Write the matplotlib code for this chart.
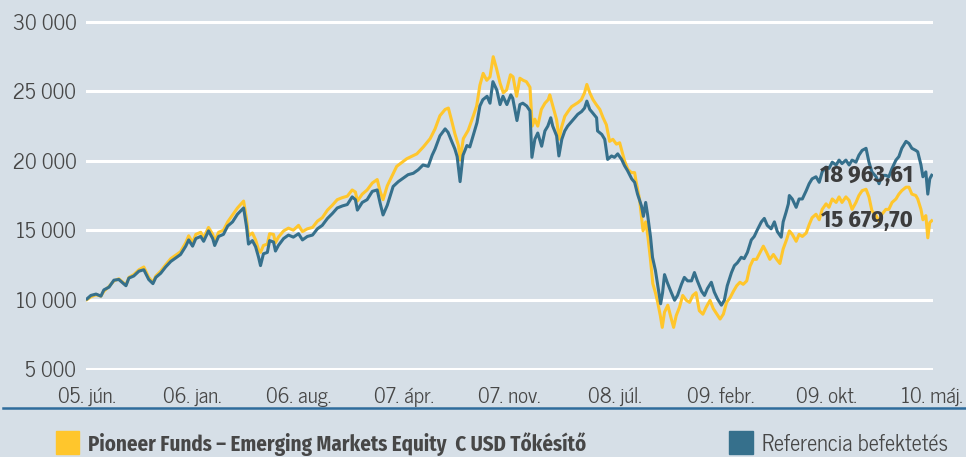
import numpy as np
import matplotlib
matplotlib.use("Agg")
import matplotlib.pyplot as plt
from matplotlib.lines import Line2D
from matplotlib.patches import Rectangle

plt.rcParams['font.family'] = ['News Cycle', 'DejaVu Sans']
bold_fam = ['Fira Sans Condensed', 'DejaVu Sans']

# weeks since 2005 June, values in thousands
ref_weeks = [0.0, 1.2, 2.8, 4.3, 5.2, 6.8, 8.3, 9.8, 11.0, 12.0, 12.9, 14.4, 16.0, 17.5, 19.0, 20.3, 21.2, 22.7,
             24.2, 25.8, 27.3, 28.8, 30.4, 31.3, 32.5, 33.5, 35.0, 35.9, 37.4, 38.7, 39.3, 40.5, 42.0, 43.3, 44.8,
             46.3, 48.2, 49.1, 49.7, 50.9, 51.9, 52.8, 53.4, 54.3, 55.5, 56.2, 57.4, 58.0, 58.9, 60.5, 62.0, 63.5,
             65.1, 66.3, 67.8, 69.4, 70.9, 72.4, 74.0, 75.5, 77.0, 78.6, 80.1, 81.6, 82.6, 83.2, 84.7, 86.2, 87.8,
             89.3, 90.2, 91.1, 92.4, 94.2, 95.8, 97.3, 98.8, 100.4, 101.9, 103.4, 105.0, 106.2, 107.1, 108.6, 110.2,
             111.1, 112.3, 113.2, 113.9, 114.8, 115.7, 116.9, 117.8, 118.8, 120.0, 120.9, 121.8, 123.1, 124.0,
             124.9, 126.1, 127.1, 128.0, 129.2, 130.4, 131.0, 132.3, 133.2, 134.1, 135.3, 136.3, 136.9, 137.8,
             138.7, 139.9, 140.9, 141.8, 142.7, 143.3, 144.5, 145.2, 146.1, 147.0, 147.9, 149.2, 150.1, 151.0,
             152.2, 153.1, 153.8, 154.7, 155.6, 156.8, 157.1, 158.4, 159.3, 160.2, 161.4, 162.3, 163.3, 164.5,
             165.4, 166.3, 167.6, 168.5, 169.4, 170.6, 171.2, 171.9, 172.5, 173.4, 174.0, 174.9, 175.5, 176.5,
             177.1, 177.7, 178.6, 179.8, 180.8, 181.7, 182.9, 183.8, 184.8, 186.0, 186.9, 187.8, 189.1, 190.0,
             190.9, 192.1, 193.0, 194.0, 195.2, 196.1, 197.0, 198.3, 199.2, 200.1, 201.3, 202.2, 203.2, 204.4,
             205.3, 206.2, 207.5, 208.4, 209.3, 210.5, 211.5, 212.4, 213.6, 214.2, 215.1, 215.8, 216.1, 217.0,
             218.2, 219.1, 220.1, 221.3, 222.2, 223.1, 224.3, 225.3, 226.2, 227.4, 228.3, 229.3, 230.5, 231.4,
             232.3, 233.5, 234.5, 235.4, 236.6, 237.5, 238.5, 239.7, 240.6, 241.5, 242.8, 243.7, 244.6, 245.8,
             246.7, 247.7, 248.9, 249.8, 250.7, 252.0, 252.9, 253.8, 255.0, 255.6, 256.6, 257.2, 258.1, 258.7,
             259.3, 259.9]
ref_vals = [10.05, 10.3, 10.4, 10.25, 10.7, 10.9, 11.4, 11.45, 11.2, 11.0, 11.55, 11.7, 12.05, 12.15, 11.45, 11.15,
            11.6, 11.9, 12.35, 12.75, 13.0, 13.25, 13.85, 14.3, 13.85, 14.4, 14.55, 14.2, 14.95, 14.4, 13.9, 14.55,
            14.7, 15.3, 15.6, 16.15, 16.6, 15.25, 14.0, 14.25, 13.8, 13.05, 12.45, 13.3, 13.4, 14.25, 14.15, 13.5,
            13.9, 14.4, 14.65, 14.5, 14.75, 14.3, 14.55, 14.65, 15.1, 15.35, 15.85, 16.2, 16.6, 16.75, 16.85, 17.4,
            17.2, 16.45, 17.0, 17.2, 17.8, 17.9, 16.95, 16.1, 16.8, 18.15, 18.5, 18.75, 19.0, 19.1, 19.35, 19.7,
            19.6, 20.4, 20.85, 21.8, 22.3, 22.05, 21.35, 20.85, 20.3, 18.5, 20.4, 21.1, 21.0, 21.8, 22.75, 23.95,
            24.4, 24.65, 24.15, 25.7, 25.1, 24.05, 24.65, 24.05, 24.75, 24.5, 22.9, 24.05, 24.15, 23.95, 23.6,
            20.25, 21.55, 22.0, 21.05, 22.15, 22.5, 23.1, 22.5, 21.8, 20.35, 21.55, 22.15, 22.5, 22.85, 23.1, 23.35,
            23.55, 23.8, 24.3, 23.7, 23.45, 23.1, 22.15, 21.9, 21.55, 20.1, 20.35, 20.25, 20.5, 20.1, 19.65, 19.3,
            18.7, 18.45, 17.6, 16.75, 16.0, 17.0, 16.1, 14.5, 13.05, 12.1, 11.2, 9.7, 10.5, 11.8, 11.2, 10.5, 9.95,
            10.3, 11.1, 11.6, 11.35, 11.35, 11.95, 11.35, 10.6, 10.3, 10.8, 11.25, 10.55, 10.05, 9.6, 9.95, 11.0,
            11.95, 12.45, 12.65, 13.05, 12.95, 13.4, 14.3, 14.55, 15.0, 15.6, 15.85, 15.35, 15.1, 15.6, 14.9, 14.5,
            15.6, 16.3, 16.9, 17.5, 17.25, 16.65, 17.25, 17.25, 17.85, 18.35, 18.7, 18.85, 18.45, 19.2, 19.55,
            19.45, 19.9, 19.7, 20.05, 19.8, 20.05, 19.7, 20.05, 19.9, 20.4, 20.75, 20.9, 19.9, 19.2, 18.85, 18.35,
            18.95, 18.95, 18.85, 19.45, 20.05, 20.3, 20.9, 21.4, 21.25, 20.9, 20.75, 20.65, 19.7, 18.85, 19.2,
            17.6, 18.7, 18.96]

fund_weeks = [0.0, 1.2, 2.8, 4.3, 5.2, 6.8, 8.3, 9.8, 11.0, 12.0, 12.9, 14.4, 16.0, 17.5, 19.0, 20.3, 21.2, 22.7,
              24.2, 25.8, 27.3, 28.8, 30.4, 31.3, 32.5, 33.5, 35.0, 35.9, 37.4, 38.7, 39.3, 40.5, 42.0, 43.3, 44.8,
              46.3, 48.2, 49.1, 49.7, 50.9, 51.9, 52.8, 53.4, 54.3, 55.5, 56.2, 57.4, 58.0, 58.9, 60.5, 62.0, 63.5,
              65.1, 66.3, 67.8, 69.4, 70.9, 72.4, 74.0, 75.5, 77.0, 78.6, 80.1, 81.6, 82.6, 83.2, 84.7, 86.2, 87.8,
              89.3, 90.2, 91.1, 92.4, 95.3, 98.4, 101.5, 103.5, 105.6, 107.1, 108.6, 110.2, 111.2, 112.2, 113.2,
              114.3, 114.8, 115.8, 117.3, 118.9, 119.9, 120.9, 121.9, 123.0, 124.0, 125.0, 126.0, 127.1, 128.1,
              129.1, 130.3, 131.1, 132.2, 133.2, 134.2, 135.2, 136.3, 137.0, 137.8, 138.7, 139.8, 140.9, 141.9,
              142.4, 143.4, 144.5, 145.3, 146.0, 147.0, 148.0, 149.1, 150.1, 151.1, 152.1, 153.1, 153.8, 154.7,
              155.7, 156.7, 157.8, 158.8, 159.8, 160.8, 161.8, 162.9, 163.9, 164.7, 165.4, 166.4, 167.5, 168.5,
              169.0, 170.0, 171.1, 171.9, 172.6, 173.3, 174.1, 174.9, 175.6, 176.4, 177.0, 177.7, 178.7, 179.8,
              180.5, 181.3, 182.3, 183.3, 184.4, 185.4, 186.4, 187.4, 188.4, 189.5, 190.5, 191.7, 192.7, 193.8,
              194.8, 195.8, 196.8, 197.9, 198.9, 199.9, 200.9, 201.9, 203.0, 204.0, 205.0, 206.0, 207.1, 208.1,
              209.1, 210.1, 211.2, 212.2, 213.2, 214.2, 215.3, 216.1, 217.0, 218.2, 219.1, 220.1, 221.3, 222.2,
              223.1, 224.3, 225.3, 226.2, 227.4, 228.3, 229.3, 230.5, 231.4, 232.3, 233.5, 234.5, 235.4, 236.6,
              237.5, 238.5, 239.7, 240.6, 241.5, 242.8, 243.7, 244.6, 245.8, 246.7, 247.7, 248.9, 249.8, 250.7,
              252.0, 252.9, 253.8, 255.0, 255.6, 256.6, 257.2, 258.1, 258.7, 259.3, 259.9]
fund_vals = [10.0, 10.2, 10.35, 10.25, 10.6, 10.95, 11.35, 11.5, 11.25, 11.05, 11.6, 11.8, 12.15, 12.35, 11.6, 11.25,
             11.7, 12.05, 12.5, 12.95, 13.2, 13.45, 14.1, 14.6, 14.1, 14.7, 14.85, 14.45, 15.2, 14.7, 14.2, 14.85,
             15.0, 15.6, 16.1, 16.6, 17.1, 15.8, 14.6, 14.8, 14.3, 13.6, 13.4, 13.9, 14.0, 14.75, 14.7, 14.1, 14.5,
             14.95, 15.15, 15.0, 15.35, 14.9, 15.1, 15.2, 15.65, 15.9, 16.45, 16.8, 17.2, 17.35, 17.45, 17.9, 17.75,
             17.1, 17.6, 17.9, 18.4, 18.65, 17.8, 17.2, 18.2, 19.6, 20.15, 20.5, 21.0, 21.6, 22.3, 23.25, 23.7,
             23.8, 22.9, 21.95, 21.1, 20.05, 21.6, 22.2, 23.25, 23.95, 25.45, 26.3, 25.8, 26.05, 27.5, 26.65, 25.6,
             24.9, 25.1, 26.2, 26.05, 24.65, 25.95, 25.8, 25.7, 25.3, 22.5, 23.0, 22.5, 23.7, 24.15, 24.4, 24.75,
             23.9, 22.95, 21.55, 22.4, 23.2, 23.55, 23.9, 24.05, 24.2, 24.4, 24.9, 25.5, 24.9, 24.4, 24.05, 23.7,
             23.1, 22.6, 21.4, 21.55, 21.2, 21.3, 20.6, 20.0, 19.4, 19.15, 19.15, 18.45, 17.25, 14.95, 15.6, 14.5,
             13.05, 11.15, 10.5, 9.8, 8.85, 8.0, 9.1, 9.6, 8.6, 8.0, 8.85, 9.45, 10.3, 9.95, 9.8, 10.3, 10.5, 9.2,
             8.95, 9.45, 9.95, 9.35, 8.95, 8.6, 8.95, 9.8, 10.15, 10.6, 11.0, 11.25, 11.1, 11.35, 12.4, 12.9, 12.9,
             13.4, 13.85, 13.4, 12.9, 13.25, 12.9, 12.6, 13.65, 14.35, 14.95, 14.7, 14.2, 14.7, 14.55, 14.8, 15.4,
             15.9, 16.15, 15.75, 16.5, 16.9, 16.65, 17.25, 17.0, 17.4, 17.0, 17.4, 17.15, 16.5, 17.0, 17.5, 17.85,
             17.95, 17.4, 16.4, 16.05, 15.65, 16.15, 16.5, 16.5, 17.0, 17.25, 17.6, 17.85, 18.1, 18.1, 17.6, 17.5,
             17.25, 16.5, 15.75, 16.05, 14.45, 15.55, 15.68]

x_labels = ["05. jún.", "06. jan.", "06. aug.", "07. ápr.", "07. nov.",
            "08. júl.", "09. febr.", "09. okt.", "10. máj."]
y_ticks = [5000, 10000, 15000, 20000, 25000, 30000]
fund_name = "Pioneer Funds – Emerging Markets Equity  C USD Tőkésítő"
ref_name = "Referencia befektetés"
last_ref = "18 963,61"
last_fund = "15 679,70"

bg = "#d6dfe7"
yellow = "#ffc62c"
blue = "#36708c"
txt = "#474747"

fig = plt.figure(figsize=(9.66, 4.57), dpi=100, facecolor=bg)
ax = fig.add_axes([0.089, 0.1895, 0.8765, 0.7654], facecolor=bg)

ax.plot(fund_weeks, np.array(fund_vals) * 1000, color=yellow, lw=2.2, zorder=3)
ax.plot(ref_weeks, np.array(ref_vals) * 1000, color=blue, lw=2.2, zorder=4)

ax.set_ylim(4900, 30100)
ax.set_xlim(-0.3, 260.2)
ax.set_yticks(y_ticks)
ax.set_yticklabels([f"{v:,}".replace(",", " ") for v in y_ticks])
ax.set_xticks(np.linspace(0, 259.9, len(x_labels)))
ax.set_xticklabels(x_labels)
ax.tick_params(length=0, labelsize=15, labelcolor=txt)
ax.tick_params(axis='y', pad=7)
ax.tick_params(axis='x', pad=12)
ax.grid(axis='y', color='white', lw=2.2, zorder=1)
ax.grid(axis='x', visible=False)
for s in ax.spines.values():
    s.set_visible(False)

ax.text(0.9764, 0.5586, last_ref, transform=ax.transAxes, ha='right', va='center', family=bold_fam,
        fontsize=17.5, fontweight='bold', color="#3c3c3c", zorder=5)
ax.text(0.9764, 0.43, last_fund, transform=ax.transAxes, ha='right', va='center', family=bold_fam,
        fontsize=17.5, fontweight='bold', color="#3c3c3c", zorder=5)

# bottom rule and legend
fig.add_artist(Line2D([0.003, 1.0], [0.107, 0.107], color="#2f6c9c", lw=1.8))
fig.add_artist(Rectangle((0.058, 0.006), 0.024, 0.05, color=yellow, transform=fig.transFigure))
fig.text(0.091, 0.014, fund_name, fontsize=15, fontweight='bold', family=bold_fam,
         color=txt, va='baseline')
fig.add_artist(Rectangle((0.755, 0.006), 0.024, 0.05, color=blue, transform=fig.transFigure))
fig.text(0.789, 0.014, ref_name, fontsize=16, color=txt, va='baseline')

fig.savefig("out.png", dpi=100, facecolor=bg)
